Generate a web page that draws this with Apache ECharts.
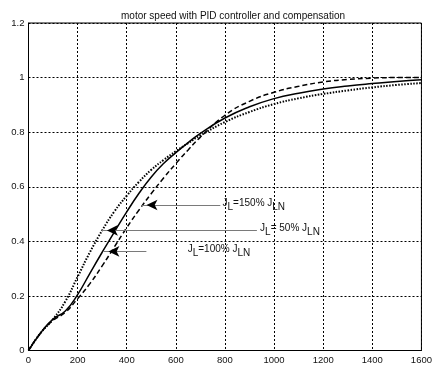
<!DOCTYPE html>
<html>
<head>
<meta charset="utf-8">
<script src="https://cdn.jsdelivr.net/npm/echarts@6/dist/echarts.min.js"></script>
<style>
  html, body { margin: 0; padding: 0; background: #fff; }
  #main { width: 435px; height: 369px; }
</style>
</head>
<body>
<div id="main"></div>
<script>
// time samples and the three step responses
var times = [0, 50, 100, 150, 200, 250, 300, 350, 400, 450, 500, 550, 600, 650, 700,
             800, 900, 1000, 1100, 1200, 1300, 1400, 1500, 1600];
var speed50 = [0, 0.065, 0.115, 0.18, 0.27, 0.36, 0.44, 0.51, 0.567, 0.618, 0.662, 0.698, 0.73, 0.76, 0.788,
               0.837, 0.874, 0.903, 0.924, 0.94, 0.953, 0.964, 0.973, 0.98];
var speed100 = [0, 0.065, 0.115, 0.145, 0.205, 0.283, 0.36, 0.435, 0.508, 0.576, 0.636, 0.685, 0.725, 0.762, 0.796,
                0.852, 0.893, 0.923, 0.943, 0.958, 0.969, 0.978, 0.986, 0.992];
var speed150 = [0, 0.065, 0.11, 0.14, 0.19, 0.245, 0.31, 0.38, 0.45, 0.515, 0.575, 0.632, 0.685, 0.735, 0.782,
                0.862, 0.913, 0.946, 0.968, 0.984, 0.993, 0.998, 1.0, 1.0];

// annotation arrows: [tail, tip] in data coords, and where the text sits
var arrow150 = [[781, 0.533], [460, 0.533]];
var arrow50 = [[930, 0.44], [299, 0.44]];
var arrow100 = [[480, 0.363], [305, 0.363]];
var text150 = [782, 0.533];
var text50 = [935, 0.44];
var text100 = [640, 0.363];
var pcts = ['150%', ' 50%', '100%'];

var font = 'Liberation Sans, Arial, sans-serif';

function pairs(ys) {
  return times.map(function (t, i) { return [t, ys[i]]; });
}

function note(arrow, textPos, pct) {
  return {
    markLine: {
      silent: true,
      animation: false,
      symbol: ['none', 'none'],
      label: { show: false },
      lineStyle: { color: '#7a7a7a', width: 1, type: 'solid' },
      emphasis: { disabled: true },
      data: [[{ coord: arrow[0] }, { coord: arrow[1] }]]
    },
    markPoint: {
      silent: true,
      animation: false,
      data: [
        {
          coord: textPos,
          symbol: 'circle',
          symbolSize: 0,
          label: {
            show: true,
            position: 'right',
            distance: 2,
            formatter: '{n|J}{s|L}{n|=' + pct + ' J}{s|LN}',
            rich: {
              n: { fontFamily: font, fontSize: 10, color: '#111', lineHeight: 14, verticalAlign: 'top' },
              s: { fontFamily: font, fontSize: 10, color: '#111', lineHeight: 14, verticalAlign: 'bottom' }
            }
          }
        },
        {
          coord: arrow[1],
          symbol: 'arrow',
          symbolSize: [8, 11],
          symbolRotate: 90,
          symbolOffset: [5, 0],
          itemStyle: { color: '#000' },
          label: { show: false }
        }
      ]
    }
  };
}

var chart = echarts.init(document.getElementById('main'));

var option = {
  animation: false,
  backgroundColor: '#fff',
  title: {
    text: 'motor speed with PID controller and compensation',
    left: 228,
    textAlign: 'center',
    top: 6,
    textStyle: { fontFamily: font, fontSize: 10, fontWeight: 'normal', color: '#111' }
  },
  grid: {
    left: 28.5, right: 8, top: 23, bottom: 18.5,
    show: true, borderColor: '#000', borderWidth: 1, backgroundColor: 'transparent'
  },
  xAxis: {
    type: 'value', min: 0, max: 1600, interval: 200,
    axisLine: { show: true, lineStyle: { color: '#000' } },
    axisTick: { show: false },
    axisLabel: {
      color: '#111', fontFamily: font, fontSize: 9.5, margin: 5, showMaxLabel: true,
      formatter: function (v) { return String(v); }
    },
    splitLine: { show: true, lineStyle: { color: '#000', width: 1, type: [2, 2] } }
  },
  yAxis: {
    type: 'value', min: 0, max: 1.2, interval: 0.2,
    axisLine: { show: true, lineStyle: { color: '#000' } },
    axisTick: { show: false },
    axisLabel: { color: '#111', fontFamily: font, fontSize: 9.5, margin: 4 },
    splitLine: { show: true, lineStyle: { color: '#000', width: 1, type: [2, 2] } }
  },
  series: [
    Object.assign({
      name: 'JL=50% JLN', type: 'line', data: pairs(speed50),
      showSymbol: false, smooth: 0.5,
      lineStyle: { color: '#000', width: 2, type: [1.5, 1.5] }
    }, note(arrow50, text50, pcts[1])),
    Object.assign({
      name: 'JL=100% JLN', type: 'line', data: pairs(speed100),
      showSymbol: false, smooth: 0.5,
      lineStyle: { color: '#000', width: 1.5, type: 'solid' }
    }, note(arrow100, text100, pcts[2])),
    Object.assign({
      name: 'JL=150% JLN', type: 'line', data: pairs(speed150),
      showSymbol: false, smooth: 0.5,
      lineStyle: { color: '#000', width: 1.5, type: [5, 3] }
    }, note(arrow150, text150, pcts[0]))
  ]
};

chart.setOption(option);
window.onresize = function () {
  chart.resize();
};
</script>
</body>
</html>
